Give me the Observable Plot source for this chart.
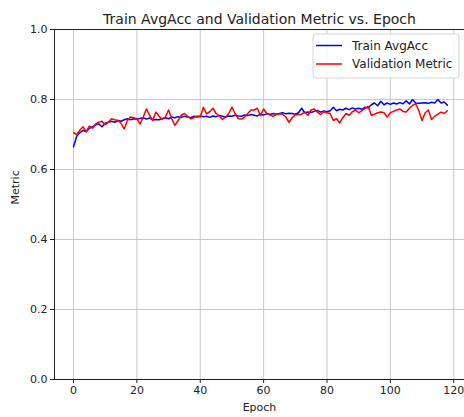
<!DOCTYPE html>
<html>
<head>
<meta charset="utf-8">
<script src="https://cdn.jsdelivr.net/npm/d3@7"></script>
<script src="https://cdn.jsdelivr.net/npm/@observablehq/plot@0.6"></script>
<style>
  html, body { margin: 0; padding: 0; background: #fff; }
</style>
</head>
<body>
<div id="chart"></div>
<script>
const titleText = "Train AvgAcc and Validation Metric vs. Epoch";
const seriesNames = ["Train AvgAcc", "Validation Metric"];
const seriesColors = ["#0000ff", "#ff0000"];
const xTicks = [0, 20, 40, 60, 80, 100, 120];
const yTicks = [0, 0.2, 0.4, 0.6, 0.8, 1.0];

const train = [
  0.665, 0.695, 0.705, 0.712, 0.708, 0.718, 0.722, 0.728, 0.730, 0.722,
  0.732, 0.735, 0.738, 0.735, 0.740, 0.738, 0.742, 0.745, 0.742, 0.745,
  0.744, 0.746, 0.748, 0.744, 0.747, 0.742, 0.743, 0.742, 0.746, 0.748,
  0.745, 0.750, 0.748, 0.751, 0.749, 0.752, 0.750, 0.748, 0.752, 0.750,
  0.753, 0.751, 0.752, 0.749, 0.753, 0.751, 0.754, 0.752, 0.750, 0.753,
  0.752, 0.755, 0.753, 0.752, 0.756, 0.754, 0.757, 0.755, 0.753, 0.758,
  0.756, 0.759, 0.757, 0.760, 0.758, 0.760, 0.762, 0.759, 0.761, 0.760,
  0.758, 0.762, 0.775, 0.762, 0.764, 0.763, 0.766, 0.769, 0.764, 0.767,
  0.765, 0.768, 0.778, 0.768, 0.772, 0.770, 0.775, 0.771, 0.776, 0.773,
  0.775, 0.772, 0.778, 0.776, 0.785, 0.790, 0.782, 0.795, 0.785, 0.790,
  0.786, 0.790, 0.787, 0.791, 0.788, 0.796, 0.787, 0.800, 0.790, 0.789,
  0.790, 0.791, 0.789, 0.792, 0.790, 0.800, 0.790, 0.793, 0.784
];
const validation = [
  0.705, 0.700, 0.712, 0.722, 0.708, 0.724, 0.718, 0.730, 0.735, 0.738,
  0.728, 0.735, 0.745, 0.742, 0.740, 0.732, 0.716, 0.740, 0.750, 0.748,
  0.745, 0.730, 0.750, 0.773, 0.755, 0.740, 0.764, 0.752, 0.743, 0.750,
  0.770, 0.745, 0.726, 0.740, 0.755, 0.760, 0.752, 0.745, 0.748, 0.753,
  0.750, 0.778, 0.759, 0.765, 0.775, 0.760, 0.753, 0.743, 0.750, 0.760,
  0.778, 0.760, 0.745, 0.744, 0.750, 0.760, 0.770, 0.770, 0.775, 0.754,
  0.773, 0.760, 0.756, 0.752, 0.757, 0.759, 0.758, 0.750, 0.735, 0.748,
  0.756, 0.757, 0.758, 0.764, 0.755, 0.770, 0.773, 0.764, 0.757, 0.765,
  0.762, 0.760, 0.740, 0.745, 0.733, 0.748, 0.760, 0.755, 0.765, 0.770,
  0.762, 0.768, 0.775, 0.780, 0.755, 0.758, 0.762, 0.764, 0.762, 0.750,
  0.762, 0.766, 0.770, 0.773, 0.766, 0.764, 0.775, 0.783, 0.788, 0.768,
  0.740, 0.762, 0.770, 0.743, 0.752, 0.758, 0.764, 0.760, 0.768
];
const epochs = d3.range(train.length);

const rows = [
  ...epochs.map((e, i) => ({epoch: e, value: train[i], series: seriesNames[0]})),
  ...epochs.map((e, i) => ({epoch: e, value: validation[i], series: seriesNames[1]}))
];

const xMin = -6, xMax = 123.4;

const chart = Plot.plot({
  width: 464,
  height: 417,
  marginLeft: 54,
  marginRight: 0,
  marginTop: 29,
  marginBottom: 38,
  style: {fontFamily: "DejaVu Sans", fontSize: "11px", background: "#fff", color: "#222"},
  x: {domain: [xMin, xMax], label: null},
  y: {domain: [0, 1], label: null},
  color: {domain: seriesNames, range: seriesColors},
  marks: [
    Plot.gridX(xTicks, {stroke: "#c8c8c8", strokeOpacity: 1, strokeWidth: 1}),
    Plot.gridY(yTicks, {stroke: "#c8c8c8", strokeOpacity: 1, strokeWidth: 1}),
    Plot.axisX({ticks: xTicks, tickSize: 4, tickPadding: 3, label: null, fontSize: 11, tickFormat: d => String(d)}),
    Plot.axisY({ticks: yTicks, tickSize: 4, tickPadding: 3, label: null, fontSize: 11, tickFormat: d3.format(".1f")}),
    Plot.line(rows, {x: "epoch", y: "value", z: "series", stroke: "series", strokeWidth: 1.5}),
    Plot.ruleX([xMin], {stroke: "#222", strokeWidth: 1}),
    Plot.ruleY([0, 1], {stroke: "#222", strokeWidth: 1}),
    Plot.text([titleText], {frameAnchor: "top", dy: -15, fontSize: 14, fill: "#222", text: d => d}),
    Plot.text(["Epoch"], {frameAnchor: "bottom", dy: 31, fontSize: 11, fill: "#222", text: d => d}),
    Plot.text(["Metric"], {frameAnchor: "left", dx: -39, rotate: -90, fontSize: 11, fill: "#222", text: d => d})
  ]
});

document.getElementById("chart").appendChild(chart);

// Legend (matplotlib-style box in the upper right)
const svg = d3.select(chart);
const lg = svg.append("g").attr("font-family", "DejaVu Sans").attr("font-size", 12)
  .attr("text-anchor", "start");
lg.append("rect")
  .attr("x", 313).attr("y", 34).attr("width", 146).attr("height", 44)
  .attr("rx", 3).attr("fill", "#fff").attr("fill-opacity", 0.85)
  .attr("stroke", "#d6d6d6");
seriesNames.forEach((name, i) => {
  const y = 45.5 + i * 18.5;
  lg.append("line").attr("x1", 316).attr("x2", 342).attr("y1", y).attr("y2", y)
    .attr("stroke", seriesColors[i]).attr("stroke-width", 1.5);
  lg.append("text").attr("x", 352).attr("y", y).attr("dy", "0.35em")
    .attr("text-anchor", "start").attr("fill", "#222").text(name);
});
</script>
</body>
</html>
